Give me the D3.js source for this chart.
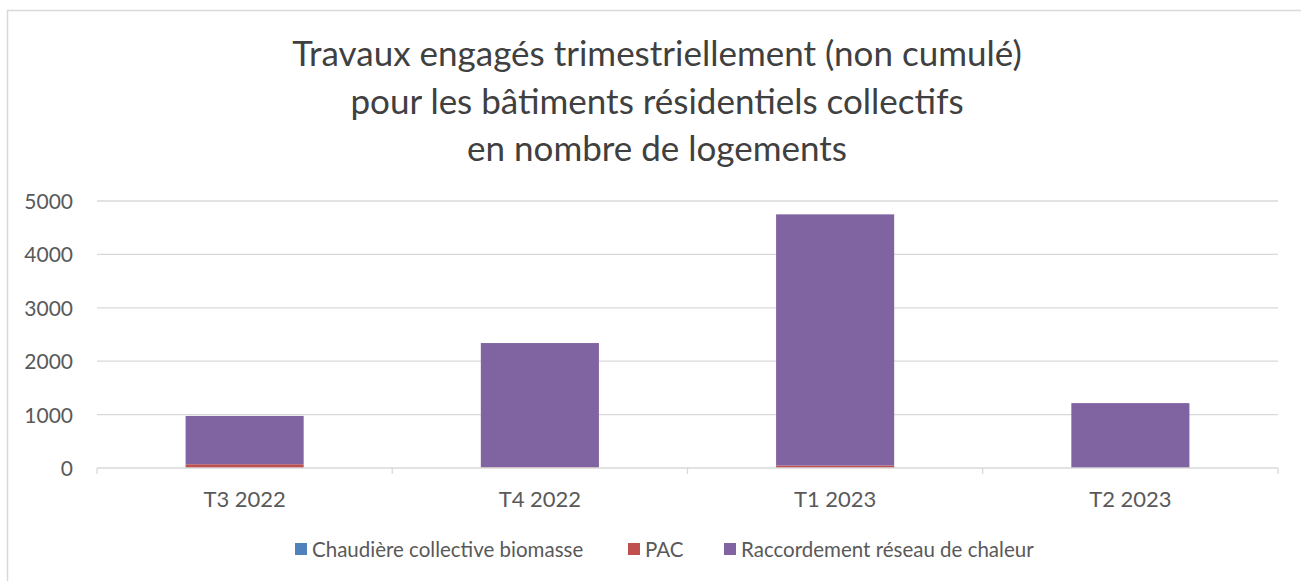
<!DOCTYPE html>
<html>
<head>
<meta charset="utf-8">
<script src="https://cdn.jsdelivr.net/npm/d3@7"></script>
<style>
  body { margin: 0; background: #fff; }
  text { font-family: Lato, "Open Sans", sans-serif; }
</style>
</head>
<body>
<div class="usable"></div>
<script>
// données
const categories = ["T3 2022", "T4 2022", "T1 2023", "T2 2023"];
const biomasse = [0, 0, 0, 0];
const pac = [70, 15, 45, 0];
const reseau = [905, 2325, 4705, 1215];
const yTicks = [0, 1000, 2000, 3000, 4000, 5000];
const seriesNames = ["Chaudière collective biomasse", "PAC", "Raccordement réseau de chaleur"];
const colors = ["#4f81bd", "#c0504d", "#8064a2"];
const titleLines = [
    "Travaux engagés trimestriellement (non cumulé)",
    "pour les bâtiments résidentiels collectifs",
    "en nombre de logements"
];

const W = 1301, H = 581;
const svg = d3.select(".usable").append("svg")
    .attr("width", W)
    .attr("height", H);

// cadre du graphique
svg.append("rect")
    .attr("x", 7.5).attr("y", 10.5)
    .attr("width", W).attr("height", H)
    .attr("fill", "none")
    .attr("stroke", "#d9d9d9")
    .attr("stroke-width", 1.5);

// titre
svg.append("g").selectAll("text")
    .data(titleLines)
    .join("text")
    .attr("x", 657)
    .attr("y", (d, i) => 66 + i * 47.5)
    .attr("text-anchor", "middle")
    .attr("font-size", 35)
    .attr("fill", "#404040")
    .text(d => d);

const x = d3.scaleBand().domain(categories).range([97, 1278]);
const y = d3.scaleLinear().domain([0, 5000]).range([468, 201]);

// grille
svg.append("g").selectAll("line")
    .data(yTicks.filter(d => d > 0))
    .join("line")
    .attr("x1", 97).attr("x2", 1278)
    .attr("y1", d => y(d)).attr("y2", d => y(d))
    .attr("stroke", "#d9d9d9")
    .attr("stroke-width", 1.3);

// étiquettes axe y
svg.append("g").selectAll("text")
    .data(yTicks)
    .join("text")
    .attr("x", 73)
    .attr("y", d => y(d) + 8)
    .attr("text-anchor", "end")
    .attr("font-size", 21)
    .attr("fill", "#595959")
    .text(d => d);

// barres empilées
const rows = categories.map((c, i) => ({ cat: c, b: biomasse[i], p: pac[i], r: reseau[i] }));
const stack = d3.stack().keys(["b", "p", "r"])(rows);
const barW = x.bandwidth() * 0.4;

svg.append("g").selectAll("g")
    .data(stack)
    .join("g")
    .attr("fill", (d, i) => colors[i])
    .selectAll("rect")
    .data(d => d)
    .join("rect")
    .attr("x", d => x(d.data.cat) + (x.bandwidth() - barW) / 2)
    .attr("y", d => y(d[1]))
    .attr("width", barW)
    .attr("height", d => y(d[0]) - y(d[1]));

// axe x
const xAxis = svg.append("g");
xAxis.append("line")
    .attr("x1", 97).attr("x2", 1278)
    .attr("y1", y(0)).attr("y2", y(0))
    .attr("stroke", "#d9d9d9")
    .attr("stroke-width", 1.3);
const bounds = categories.map(c => x(c)).concat([x.range()[1]]);
xAxis.selectAll("line.tick")
    .data(bounds)
    .join("line")
    .attr("class", "tick")
    .attr("x1", d => d).attr("x2", d => d)
    .attr("y1", y(0)).attr("y2", y(0) + 6)
    .attr("stroke", "#d9d9d9")
    .attr("stroke-width", 1.3);
xAxis.selectAll("text")
    .data(categories)
    .join("text")
    .attr("x", d => x(d) + x.bandwidth() / 2)
    .attr("y", 507)
    .attr("text-anchor", "middle")
    .attr("font-size", 22)
    .attr("fill", "#595959")
    .text(d => d);

// légende
const legendX = [295, 628, 724];
const legend = svg.append("g").selectAll("g")
    .data(seriesNames)
    .join("g")
    .attr("transform", (d, i) => `translate(${legendX[i]},557)`);
legend.append("rect")
    .attr("x", 0).attr("y", -14)
    .attr("width", 12).attr("height", 12)
    .attr("fill", (d, i) => colors[i]);
legend.append("text")
    .attr("x", 17).attr("y", 0)
    .attr("font-size", 20.5)
    .attr("fill", "#595959")
    .text(d => d);
</script>
</body>
</html>
